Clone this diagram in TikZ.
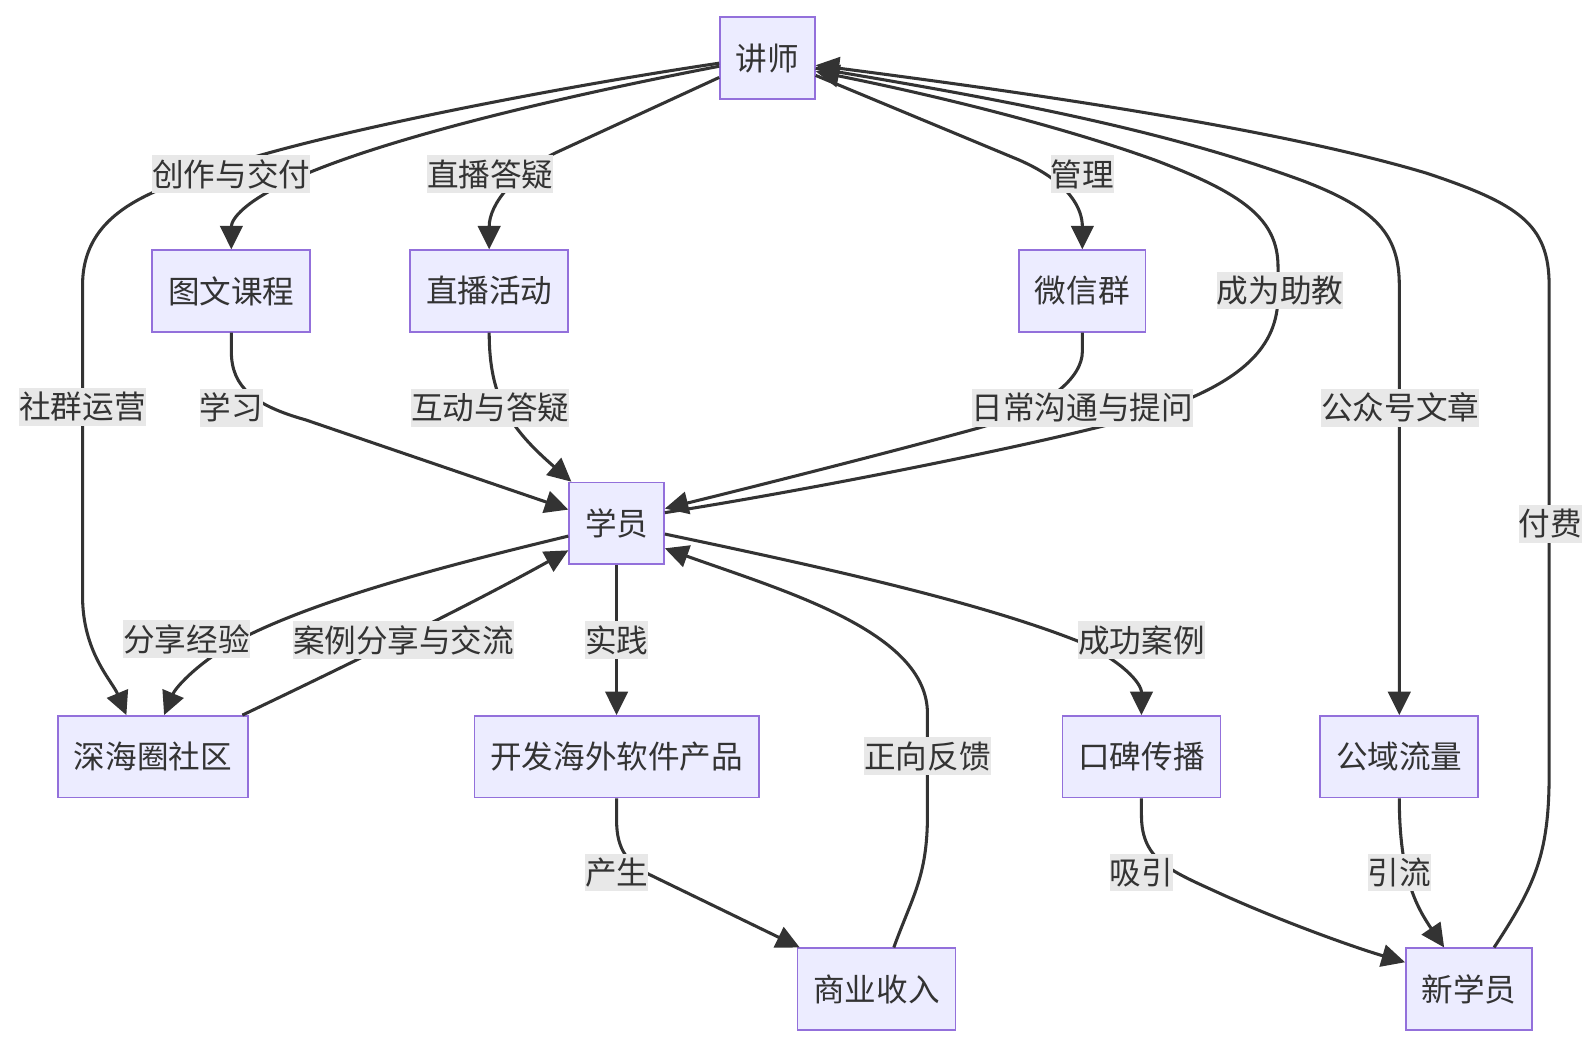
\documentclass[tikz,border=0pt]{standalone}
\usepackage{fontspec}
\setmainfont{Noto Sans CJK SC}
\usetikzlibrary{arrows.meta,calc}
\definecolor{nodefill}{HTML}{ECECFF}
\definecolor{nodeline}{HTML}{9370DB}
\definecolor{edgec}{HTML}{333333}
\definecolor{lblbg}{HTML}{E8E8E8}
\definecolor{textc}{HTML}{333333}
\newcommand\dgfont{\fontsize{31pt}{37pt}\selectfont}
\tikzset{
  box/.style={draw=nodeline, fill=nodefill, line width=1.7pt, minimum height=80pt, inner sep=0pt, text=textc, font=\dgfont},
  lbl/.style={fill=lblbg, inner sep=0pt, minimum height=37pt, text=textc, font=\dgfont},
  conn/.style={draw=edgec, line width=3pt, -{Triangle[length=23pt,width=22pt]}},
}
\begin{document}
\begin{tikzpicture}[x=1pt,y=-1pt]
\fill[white] (0,0) rectangle (1566,1026.5);
\useasboundingbox (0,0) rectangle (1566,1026.5);
% nodes
\node[box, minimum width=93pt]  (T) at (753,57)      {讲师};
\node[box, minimum width=155pt] (A) at (227,285.5)   {图文课程};
\node[box, minimum width=155pt] (B) at (480,285.5)   {直播活动};
\node[box, minimum width=124pt] (W) at (1062,285.5)  {微信群};
\node[box, minimum width=93pt]  (S) at (605,513.5)   {学员};
\node[box, minimum width=186pt] (C) at (150,742.5)   {深海圈社区};
\node[box, minimum width=279pt] (D) at (605,742.5)   {开发海外软件产品};
\node[box, minimum width=155pt] (K) at (1120,742.5)  {口碑传播};
\node[box, minimum width=155pt] (G) at (1373,742.5)  {公域流量};
\node[box, minimum width=155pt] (R) at (860,970.5)   {商业收入};
\node[box, minimum width=124pt] (N) at (1441.5,970.5){新学员};
% edges
\draw[conn] ([yshift=-5pt]T.west) .. controls (550,85) and (330,128) .. (230,160) .. controls (165,183) and (81,200) .. (81,280) -- (81,585) .. controls (81,640) and (110,668) .. ([xshift=-26pt]C.north);
\draw[conn] ([yshift=-8pt]T.west) .. controls (550,95) and (380,135) .. (290,175) .. controls (240,197) and (227,215) .. (A.north);
\draw[conn] ([yshift=-19pt]T.west) -- (545,150) .. controls (505,170) and (480,200) .. (B.north);
\draw[conn] ([yshift=-17pt]T.east) -- (1000,157) .. controls (1050,179) and (1062,205) .. (W.north);
\draw[conn] (A.south) -- (227,345) .. controls (227,380) and (250,398) .. (300,412) -- ([yshift=13.5pt]S.west);
\draw[conn] (B.south) .. controls (480,390) and (500,420) .. ([xshift=3pt]S.north west);
\draw[conn] (W.south) -- (1062,345) .. controls (1062,370) and (1030,400) .. (960,420) .. controls (880,442) and (750,475) .. ([yshift=14.5pt]S.east);
\draw[conn] ([yshift=10.5pt]S.east) .. controls (800,480) and (1050,430) .. (1130,405) .. controls (1220,375) and (1254,340) .. (1254,290) -- (1254,262) .. controls (1254,215) and (1220,190) .. (1133,157) .. controls (1030,120) and (900,90) .. ([yshift=-13pt]T.east);
\draw[conn] ([yshift=-10pt]T.east) .. controls (1000,100) and (1150,130) .. (1280,178) .. controls (1350,205) and (1373,230) .. (1373,280) -- (G.north);
\draw[conn] ([xshift=24.5pt]N.north) .. controls (1505,870) and (1520,840) .. (1520,760) -- (1520,280) .. controls (1520,220) and (1490,200) .. (1400,170) .. controls (1250,125) and (1000,90) .. ([yshift=-7pt]T.east);
\draw[conn] ([yshift=-12.5pt]S.west) .. controls (450,552) and (320,585) .. (240,625) .. controls (200,645) and (173,673) .. ([xshift=11pt]C.north);
\draw[conn] ([xshift=-6pt]C.north east) .. controls (300,672) and (450,600) .. ([yshift=-26.5pt]S.west);
\draw[conn] (S.south) -- (D.north);
\draw[conn] ([yshift=-10.5pt]S.east) .. controls (800,555) and (960,590) .. (1060,630) .. controls (1100,648) and (1120,670) .. (K.north);
\draw[conn] ([xshift=17pt]R.north) .. controls (895,880) and (910,860) .. (910,800) -- (910,700) .. controls (910,620) and (770,580) .. ([yshift=-24.5pt]S.east);
\draw[conn] (D.south) -- (605,805) .. controls (605,835) and (617,847) .. (637,858) -- ([xshift=3pt]R.north west);
\draw[conn] (K.south) -- (1120,800) .. controls (1120,845) and (1150,855) .. (1200,878) .. controls (1260,905) and (1330,930) .. ([yshift=-14.5pt]N.north west);
\draw[conn] (G.south) .. controls (1373,860) and (1390,890) .. ([xshift=-24.5pt]N.north);
% labels
\node[lbl] (l1)  at (227,171)  {创作与交付};
\node[lbl] (l2)  at (481,171)  {直播答疑};
\node[lbl] (l3)  at (1062,171) {管理};
\node[lbl] (l4)  at (1256,285) {成为助教};
\node[lbl] (l5)  at (81,399)   {社群运营};
\node[lbl] (l6)  at (227,400)  {学习};
\node[lbl] (l7)  at (481,400)  {互动与答疑};
\node[lbl] (l8)  at (1062,400) {日常沟通与提问};
\node[lbl] (l9)  at (1374,400) {公众号文章};
\node[lbl] (l10) at (1521,514) {付费};
\node[lbl] (l11) at (183,627)  {分享经验};
\node[lbl] (l12) at (396,628)  {案例分享与交流};
\node[lbl] (l13) at (605,628)  {实践};
\node[lbl] (l14) at (1120,628) {成功案例};
\node[lbl] (l15) at (910,742)  {正向反馈};
\node[lbl] (l16) at (605,856)  {产生};
\node[lbl] (l17) at (1120,856) {吸引};
\node[lbl] (l18) at (1373,856) {引流};
\end{tikzpicture}
\end{document}
